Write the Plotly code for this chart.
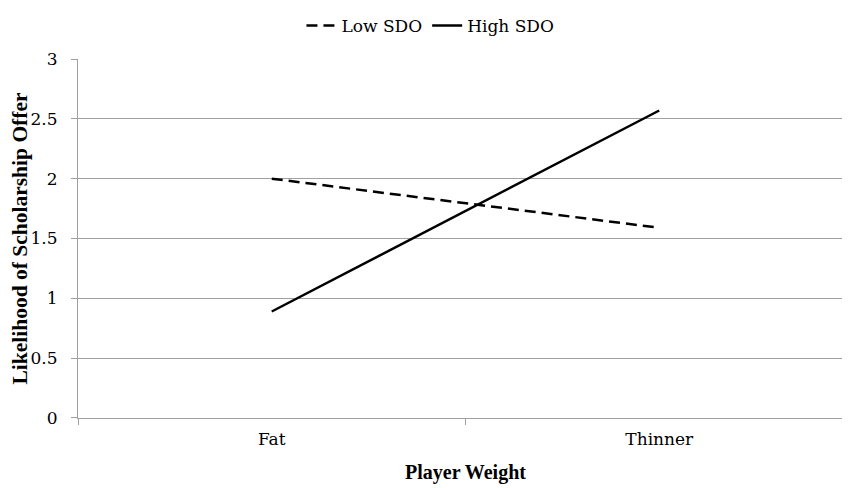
import plotly.graph_objects as go

categories = ["Fat", "Thinner"]
low_sdo = [2.0, 1.59]
high_sdo = [0.89, 2.57]
y_ticks = [0, 0.5, 1, 1.5, 2, 2.5, 3]
y_tick_labels = ["0", "0.5", "1", "1.5", "2", "2.5", "3"]

FONT = "DejaVu Serif"
TITLE_FONT = "Liberation Serif"

fig = go.Figure()
fig.add_trace(go.Scatter(x=categories, y=low_sdo, mode="lines", name="Low SDO",
                         line=dict(color="black", width=2.5, dash="11px,6px")))
fig.add_trace(go.Scatter(x=categories, y=high_sdo, mode="lines", name="High SDO",
                         line=dict(color="black", width=2.5)))

fig.update_layout(
    width=850, height=488,
    margin=dict(l=70, r=5, t=50, b=78),
    paper_bgcolor="white", plot_bgcolor="white",
    font=dict(family=FONT, size=17, color="black"),
    showlegend=True,
    legend=dict(orientation="h", xref="container", yref="container",
                x=0.497, xanchor="center", y=1.0, yanchor="top",
                font=dict(family=FONT, size=17, color="black"), tracegroupgap=0),
    xaxis=dict(type="category", range=[-0.5, 1.5], tickson="boundaries",
               ticks="outside", ticklen=6, tickcolor="#a0a0a0",
               ticklabelstandoff=6,
               tickfont=dict(family=FONT, size=17, color="black"),
               showline=True, linecolor="#a0a0a0", linewidth=1,
               showgrid=False, zeroline=False,
               title=dict(text="<b>Player Weight</b>", font=dict(family=TITLE_FONT, size=20, color="black"), standoff=16)),
    yaxis=dict(range=[0, 3], tickvals=y_ticks, ticktext=y_tick_labels,
               ticks="outside", ticklen=6, tickcolor="#a0a0a0",
               ticklabelstandoff=10,
               tickfont=dict(family=FONT, size=17, color="black"),
               showline=True, linecolor="#a0a0a0", linewidth=1,
               showgrid=True, gridcolor="#a0a0a0", gridwidth=1, zeroline=False,
               title=dict(text="<b>Likelihood of Scholarship Offer</b>", font=dict(family=TITLE_FONT, size=21.5, color="black"), standoff=2)),
)

fig.write_html("out.html")
